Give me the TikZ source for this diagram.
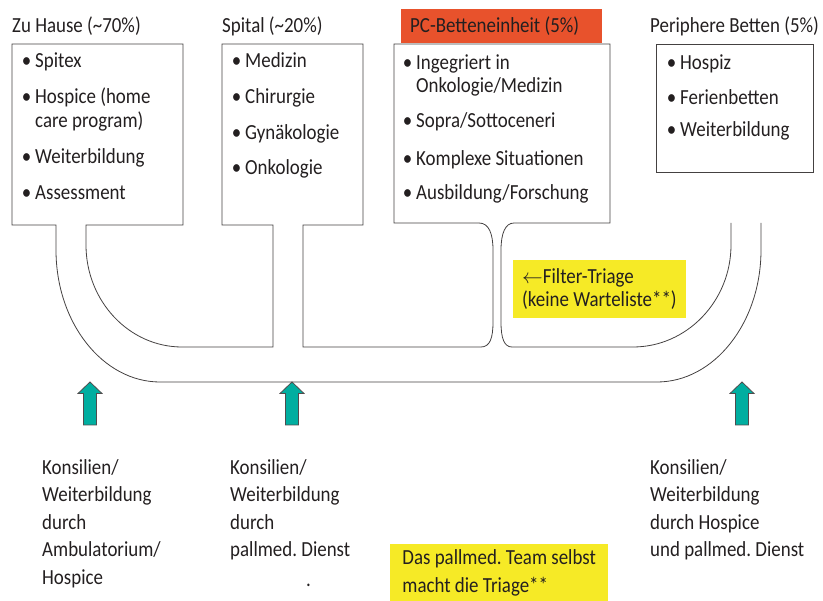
\documentclass[tikz,border=0pt]{standalone}
\usepackage{fontspec}
\setmainfont{Carlito}[FakeStretch=0.88]
\frenchspacing
\definecolor{pcorange}{RGB}{232,82,44}
\definecolor{triageyellow}{RGB}{246,234,38}
\definecolor{konsteal}{RGB}{0,174,160}
\definecolor{inkgray}{RGB}{35,31,32}
\newcommand{\itm}{\llap{\textbullet\hspace{4pt}}}
\tikzset{
 pipe/.style={draw=inkgray!85,line width=0.8pt},
 txt/.style={inner sep=0pt,anchor=base west,text=inkgray,font=\fontsize{21.5}{24}\selectfont},
 multi/.style={inner sep=0pt,anchor=north west,align=left,text=inkgray,font=\fontsize{21.5}{27.5}\selectfont},
 note/.style={fill=triageyellow,anchor=north west,align=left,text=inkgray,inner xsep=9pt,font=\fontsize{21.5}{23}\selectfont},
 kons/.style={fill=konsteal,draw=inkgray!80,line width=0.8pt}
}
\begin{document}
\begin{tikzpicture}[x=1pt,y=-1pt]
 \useasboundingbox (0,0) rectangle (823,601);
 % orange title of the PC unit
 \fill[pcorange] (401,9) rectangle (602,43);
 % the whole pipe system with three boxes in one path
 \draw[pipe] (731,223) -- (731,245) .. controls (731,301) and (687,347) .. (633,347)
  -- (512,347) .. controls (504,347) and (501,338) .. (501,322) -- (501,250)
  .. controls (501,234) and (505,223) .. (514,223) -- (610,223) -- (610,44)
  -- (394,44) -- (394,223) -- (479,223) .. controls (489,223) and (493,234) .. (493,250)
  -- (493,322) .. controls (493,338) and (490,347) .. (481,347) -- (303,347)
  -- (303,225) -- (363,225) -- (363,44) -- (222,44) -- (222,225) -- (273,225)
  -- (273,347) -- (182,347) .. controls (129,347) and (86,301) .. (86,245) -- (86,225)
  -- (183,225) -- (183,44) -- (12,44) -- (12,225) -- (56,225) -- (56,250)
  .. controls (56,323) and (103,382) .. (160,382) -- (657,382)
  .. controls (714,382) and (761,323) .. (761,250) -- (761,223);
 \draw[pipe] (656,44) rectangle (813,172);
 % titles
 \node[txt] (tzh) at (12,33) {Zu Hause (\textasciitilde70\%)};
 \node[txt] (tsp) at (222,33) {Spital (\textasciitilde20\%)};
 \node[txt] (tpc) at (410,33) {PC-Betteneinheit (5\%)};
 \node[txt] (tpb) at (650,33) {Periphere Betten (5\%)};
 % Zu Hause
 \node[txt] (zh1) at (35,68) {\itm Spitex};
 \node[txt] (zh2) at (35,104) {\itm Hospice (home};
 \node[txt] (zh3) at (35,128) {care program)};
 \node[txt] (zh4) at (35,164) {\itm Weiterbildung};
 \node[txt] (zh5) at (35,200) {\itm Assessment};
 % Spital
 \node[txt] (sp1) at (245,68) {\itm Medizin};
 \node[txt] (sp2) at (245,104) {\itm Chirurgie};
 \node[txt] (sp3) at (245,140) {\itm Gyn\"akologie};
 \node[txt] (sp4) at (245,175) {\itm Onkologie};
 % PC-Betteneinheit
 \node[txt] (pc1) at (416,70) {\itm Ingegriert in};
 \node[txt] (pc2) at (416,93) {Onkologie/Medizin};
 \node[txt] (pc3) at (416,128) {\itm Sopra/Sottoceneri};
 \node[txt] (pc4) at (416,166) {\itm Komplexe Situationen};
 \node[txt] (pc5) at (416,200) {\itm Ausbildung/Forschung};
 % Periphere Betten
 \node[txt] (pb1) at (680,70) {\itm Hospiz};
 \node[txt] (pb2) at (680,105) {\itm Ferienbetten};
 \node[txt] (pb3) at (680,137) {\itm Weiterbildung};
 % yellow notes
 \node[note,minimum width=168pt,minimum height=58pt] (filter) at (513,260)
  {$\leftarrow$Filter-Triage\\(keine Warteliste**)};
 \node[note,minimum width=218pt,minimum height=57pt,font=\fontsize{21.5}{27.5}\selectfont] (team) at (390,544)
  {Das pallmed. Team selbst\\macht die Triage**};
 % arrows up to the pipe
 \foreach \cx in {90,292,742}
  \draw[kons] (\cx,382) -- (\cx+12,393.5) -- (\cx+6.5,393.5) -- (\cx+6.5,425)
   -- (\cx-6.5,425) -- (\cx-6.5,393.5) -- (\cx-12,393.5) -- cycle;
 % Konsilien
 \node[multi] (k1) at (42,459) {Konsilien/\\Weiterbildung\\durch\\Ambulatorium/\\Hospice};
 \node[multi] (k2) at (230,459) {Konsilien/\\Weiterbildung\\durch\\pallmed. Dienst};
 \node[txt] (kdot) at (306,587) {.};
 \node[multi] (k3) at (650,459) {Konsilien/\\Weiterbildung\\durch Hospice\\und pallmed. Dienst};
\end{tikzpicture}
\end{document}
